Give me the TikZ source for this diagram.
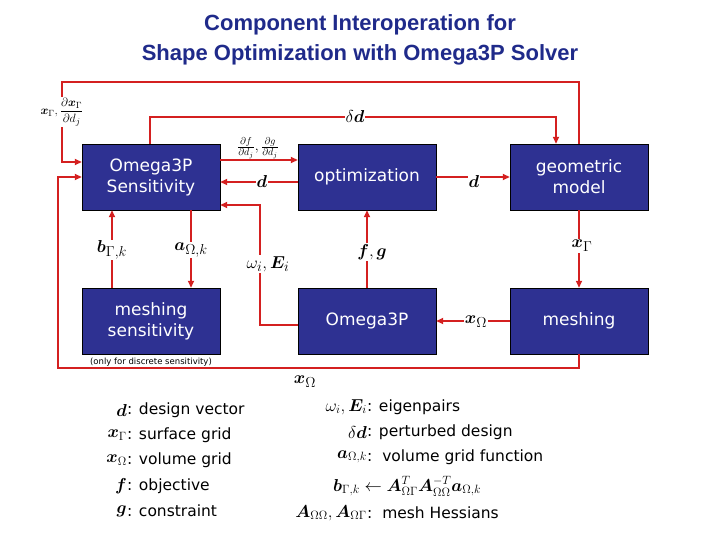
\documentclass[tikz,border=0pt]{standalone}
\usepackage{amsmath,bm}
\usepackage{fontspec}
\setmainfont{DejaVu Sans}
\newfontfamily\titlefont{Liberation Sans}
\usetikzlibrary{arrows.meta}
\definecolor{boxblue}{HTML}{2E3192}
\definecolor{lred}{HTML}{D42020}
\definecolor{ttl}{HTML}{1F2A8A}
\begin{document}
\begin{tikzpicture}[x=1pt,y=-1pt,
  box/.style={draw=black,fill=boxblue,text=white,minimum width=138pt,minimum height=66pt,inner sep=0pt,align=center,font=\fontsize{17}{21}\selectfont},
  ln/.style={draw=lred,line width=1.6pt},
  ar/.style={ln,-{Triangle[length=7pt,width=6pt]}},
  lab/.style={fill=white,inner sep=1pt,font=\fontsize{19}{21}\selectfont},
  leg/.style={font=\fontsize{15.5}{18}\selectfont,inner sep=0pt},
  legm/.style={font=\fontsize{17}{18}\selectfont,inner sep=0pt}]
\useasboundingbox (0,0) rectangle (720,540);
\node[font=\titlefont\bfseries\fontsize{22}{30}\selectfont,text=ttl,align=center] (title) at (360,40) {Component Interoperation for\\Shape Optimization with Omega3P Solver};
\node[box] (sens) at (151,177) {Omega3P\\Sensitivity};
\node[box] (opt) at (367,177) {optimization};
\node[box] (geo) at (579,177) {geometric\\model};
\node[box] (msens) at (151,321) {meshing\\sensitivity};
\node[box] (o3p) at (367,321) {Omega3P};
\node[box] (mesh) at (579,321) {meshing};
\node[font=\fontsize{8.5}{9}\selectfont,anchor=north] (note) at (151,355) {(only for discrete sensitivity)};
% top loop
\coordinate (t1) at (579,82); \coordinate (t2) at (62,82);
\draw[ar] (geo.north) -- (t1) -- (t2) -- (t2|-0,162) -- (sens.west|-0,162);
\node[lab,font=\fontsize{13}{15}\selectfont] (xg) at (62,112) {$\bm{x}_\Gamma,\dfrac{\partial \bm{x}_\Gamma}{\partial d_j}$};
% delta d loop
\coordinate (d1) at (150,117); \coordinate (d2) at (556,117);
\draw[ar] (d1|-sens.north) -- (d1) -- (d2) -- (d2|-geo.north);
\node[lab] (dd) at (355,117) {$\delta\bm{d}$};
% sens -> opt
\draw[ar] (sens.east|-0,160) -- (opt.west|-0,160);
\node[lab,fill=none,font=\fontsize{14}{15}\selectfont] (dfg) at (258,148) {$\frac{\partial f}{\partial d_j},\frac{\partial g}{\partial d_j}$};
\draw[ar] (opt.west|-0,182) -- (sens.east|-0,182);
\node[lab] (dl) at (262,182) {$\bm{d}$};
% omega E
\coordinate (w1) at (260,325); \coordinate (w2) at (260,205);
\draw[ar] (o3p.west|-w1) -- (w1) -- (w2) -- (sens.east|-w2);
\node[lab] (we) at (268,264) {$\omega_i,\bm{E}_i$};
% opt -> geo
\draw[ar] (opt.east) -- (geo.west);
\node[lab] (d3) at (474,182) {$\bm{d}$};
% geo -> mesh
\draw[ar] (geo.south) -- (mesh.north);
\node[lab] (xg2) at (582,246) {$\bm{x}_\Gamma$};
% mesh -> o3p
\draw[ar] (mesh.west) -- (o3p.east);
\node[lab] (xo) at (476,322) {$\bm{x}_\Omega$};
% o3p -> opt
\draw[ar] (o3p.north) -- (opt.south);
\node[lab] (fg) at (372,252) {$\bm{f},\bm{g}$};
% msens <-> sens
\draw[ar] (msens.north-|112,0) -- (sens.south-|112,0);
\node[lab] (bk) at (112,250) {$\bm{b}_{\Gamma,k}$};
\draw[ar] (sens.south-|191,0) -- (msens.north-|191,0);
\node[lab] (ak) at (191,250) {$\bm{a}_{\Omega,k}$};
% bottom loop
\coordinate (b1) at (579,368); \coordinate (b2) at (58,368);
\draw[ar] (mesh.south) -- (b1) -- (b2) -- (b2|-0,177) -- (sens.west|-0,177);
\node[font=\fontsize{19}{21}\selectfont] (xo2) at (305,382) {$\bm{x}_\Omega$};
% legend
\node[legm,anchor=east] (l1a) at (127,410) {$\bm{d}$};\node[leg,anchor=west] (l1) at (127,410) {: design vector};
\node[legm,anchor=east] (l2a) at (127,435) {$\bm{x}_\Gamma$};\node[leg,anchor=west] (l2) at (127,435) {: surface grid};
\node[legm,anchor=east] (l3a) at (127,460) {$\bm{x}_\Omega$};\node[leg,anchor=west] (l3) at (127,460) {: volume grid};
\node[legm,anchor=east] (l4a) at (127,486) {$\bm{f}$};\node[leg,anchor=west] (l4) at (127,486) {: objective};
\node[legm,anchor=east] (l5a) at (127,511) {$\bm{g}$};\node[leg,anchor=west] (l5) at (127,511) {: constraint};
\node[legm,anchor=east] (r1a) at (367,407) {$\omega_i,\bm{E}_i$};\node[leg,anchor=west] (r1) at (367,407) {: eigenpairs};
\node[legm,anchor=east] (r2a) at (367,432) {$\delta\bm{d}$};\node[leg,anchor=west] (r2) at (367,432) {: perturbed design};
\node[legm,anchor=east] (r3a) at (367,457) {$\bm{a}_{\Omega,k}$};\node[leg,anchor=west] (r3) at (367,457) {:\ \ volume grid function};
\node[legm,anchor=west] (r4) at (333,486) {$\bm{b}_{\Gamma,k}\leftarrow \bm{A}_{\Omega\Gamma}^T\bm{A}_{\Omega\Omega}^{-T}\bm{a}_{\Omega,k}$};
\node[legm,anchor=east] (r5a) at (367,513) {$\bm{A}_{\Omega\Omega},\bm{A}_{\Omega\Gamma}$};\node[leg,anchor=west] (r5) at (367,513) {:\ \ mesh Hessians};
\end{tikzpicture}
\end{document}
